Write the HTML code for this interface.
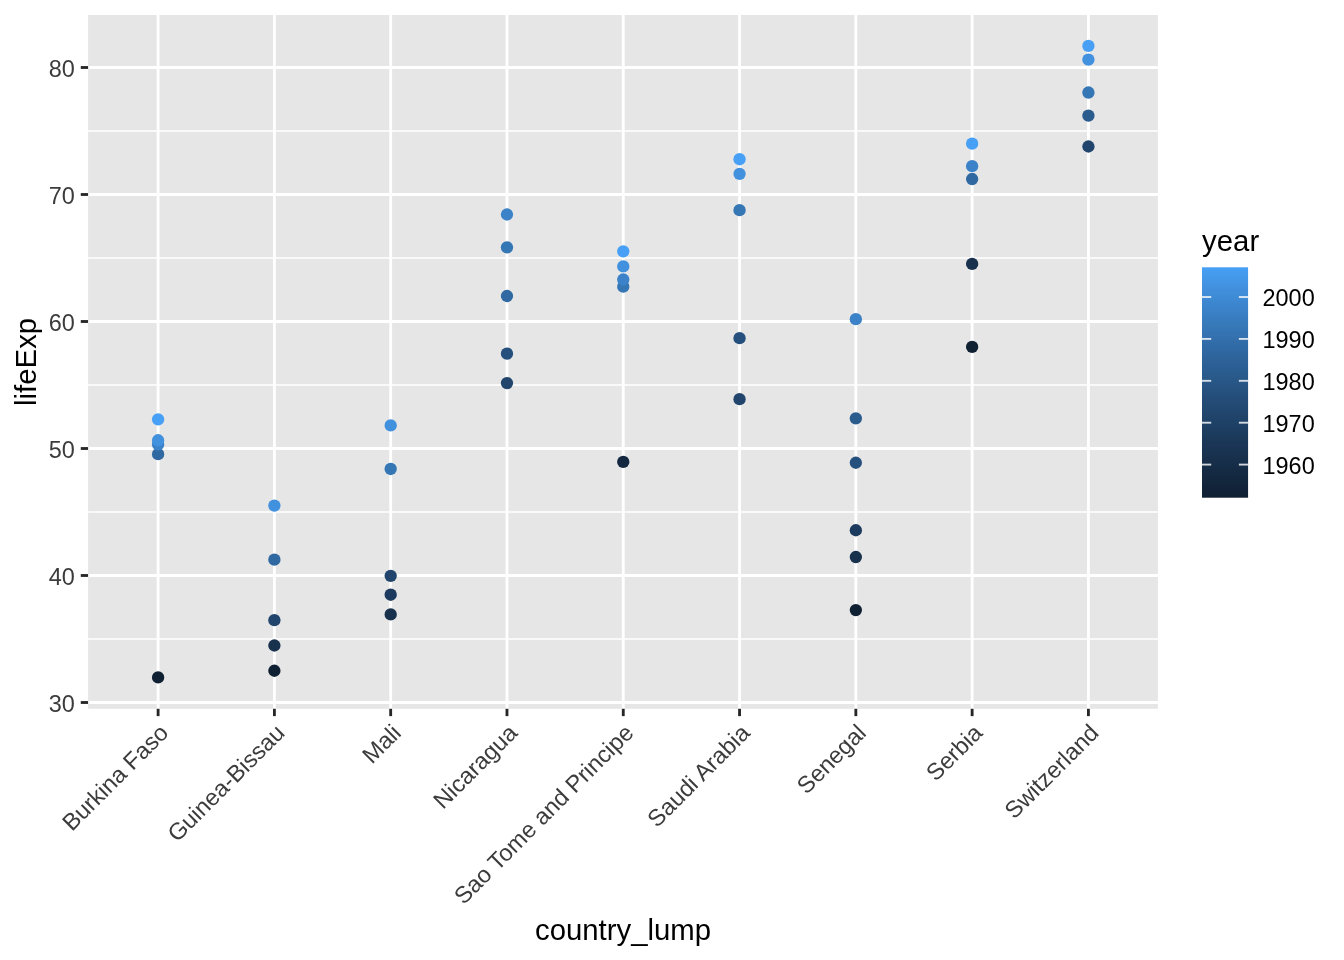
<!DOCTYPE html>
<html><head><meta charset="utf-8"><title>lifeExp by country_lump</title><style>html,body{margin:0;padding:0;background:#fff;}svg{display:block;will-change:transform;}</style></head><body>
<svg width="1344" height="960" viewBox="0 0 1344 960">
<rect width="1344" height="960" fill="#FFFFFF"/>
<rect x="88.1" y="15.0" width="1069.80" height="693.80" fill="#E6E6E6"/>
<line x1="88.1" x2="1157.9" y1="639.00" y2="639.00" stroke="#FFFFFF" stroke-width="1.42"/>
<line x1="88.1" x2="1157.9" y1="512.00" y2="512.00" stroke="#FFFFFF" stroke-width="1.42"/>
<line x1="88.1" x2="1157.9" y1="385.00" y2="385.00" stroke="#FFFFFF" stroke-width="1.42"/>
<line x1="88.1" x2="1157.9" y1="258.00" y2="258.00" stroke="#FFFFFF" stroke-width="1.42"/>
<line x1="88.1" x2="1157.9" y1="131.00" y2="131.00" stroke="#FFFFFF" stroke-width="1.42"/>
<line x1="88.1" x2="1157.9" y1="702.50" y2="702.50" stroke="#FFFFFF" stroke-width="2.84"/>
<line x1="88.1" x2="1157.9" y1="575.50" y2="575.50" stroke="#FFFFFF" stroke-width="2.84"/>
<line x1="88.1" x2="1157.9" y1="448.50" y2="448.50" stroke="#FFFFFF" stroke-width="2.84"/>
<line x1="88.1" x2="1157.9" y1="321.50" y2="321.50" stroke="#FFFFFF" stroke-width="2.84"/>
<line x1="88.1" x2="1157.9" y1="194.50" y2="194.50" stroke="#FFFFFF" stroke-width="2.84"/>
<line x1="88.1" x2="1157.9" y1="67.50" y2="67.50" stroke="#FFFFFF" stroke-width="2.84"/>
<line x1="158.10" x2="158.10" y1="15.0" y2="708.8" stroke="#FFFFFF" stroke-width="2.84"/>
<line x1="274.39" x2="274.39" y1="15.0" y2="708.8" stroke="#FFFFFF" stroke-width="2.84"/>
<line x1="390.68" x2="390.68" y1="15.0" y2="708.8" stroke="#FFFFFF" stroke-width="2.84"/>
<line x1="506.97" x2="506.97" y1="15.0" y2="708.8" stroke="#FFFFFF" stroke-width="2.84"/>
<line x1="623.26" x2="623.26" y1="15.0" y2="708.8" stroke="#FFFFFF" stroke-width="2.84"/>
<line x1="739.55" x2="739.55" y1="15.0" y2="708.8" stroke="#FFFFFF" stroke-width="2.84"/>
<line x1="855.84" x2="855.84" y1="15.0" y2="708.8" stroke="#FFFFFF" stroke-width="2.84"/>
<line x1="972.13" x2="972.13" y1="15.0" y2="708.8" stroke="#FFFFFF" stroke-width="2.84"/>
<line x1="1088.42" x2="1088.42" y1="15.0" y2="708.8" stroke="#FFFFFF" stroke-width="2.84"/>
<circle cx="158.10" cy="677.42" r="6.16" fill="#102033"/>
<circle cx="158.10" cy="454.13" r="6.16" fill="#3068A1"/>
<circle cx="158.10" cy="444.39" r="6.16" fill="#3B82C9"/>
<circle cx="158.10" cy="440.25" r="6.16" fill="#4191DE"/>
<circle cx="158.10" cy="419.35" r="6.16" fill="#47A0F5"/>
<circle cx="274.39" cy="670.75" r="6.16" fill="#102033"/>
<circle cx="274.39" cy="645.50" r="6.16" fill="#18314D"/>
<circle cx="274.39" cy="620.13" r="6.16" fill="#21456D"/>
<circle cx="274.39" cy="559.69" r="6.16" fill="#3068A1"/>
<circle cx="274.39" cy="505.60" r="6.16" fill="#4191DE"/>
<circle cx="390.68" cy="614.41" r="6.16" fill="#18314D"/>
<circle cx="390.68" cy="594.72" r="6.16" fill="#1C3A5D"/>
<circle cx="390.68" cy="575.79" r="6.16" fill="#21456D"/>
<circle cx="390.68" cy="468.97" r="6.16" fill="#3576B5"/>
<circle cx="390.68" cy="425.41" r="6.16" fill="#4191DE"/>
<circle cx="506.97" cy="383.08" r="6.16" fill="#21456D"/>
<circle cx="506.97" cy="353.63" r="6.16" fill="#25507D"/>
<circle cx="506.97" cy="296.00" r="6.16" fill="#3068A1"/>
<circle cx="506.97" cy="247.29" r="6.16" fill="#3576B5"/>
<circle cx="506.97" cy="214.49" r="6.16" fill="#3B82C9"/>
<circle cx="623.26" cy="461.90" r="6.16" fill="#132840"/>
<circle cx="623.26" cy="286.68" r="6.16" fill="#3576B5"/>
<circle cx="623.26" cy="279.51" r="6.16" fill="#3B82C9"/>
<circle cx="623.26" cy="266.42" r="6.16" fill="#4191DE"/>
<circle cx="623.26" cy="251.29" r="6.16" fill="#47A0F5"/>
<circle cx="739.55" cy="399.15" r="6.16" fill="#21456D"/>
<circle cx="739.55" cy="338.14" r="6.16" fill="#25507D"/>
<circle cx="739.55" cy="210.15" r="6.16" fill="#3576B5"/>
<circle cx="739.55" cy="173.85" r="6.16" fill="#4191DE"/>
<circle cx="739.55" cy="159.23" r="6.16" fill="#47A0F5"/>
<circle cx="855.84" cy="610.07" r="6.16" fill="#102033"/>
<circle cx="855.84" cy="557.03" r="6.16" fill="#18314D"/>
<circle cx="855.84" cy="530.25" r="6.16" fill="#1C3A5D"/>
<circle cx="855.84" cy="462.74" r="6.16" fill="#25507D"/>
<circle cx="855.84" cy="418.29" r="6.16" fill="#2A5C8E"/>
<circle cx="855.84" cy="319.13" r="6.16" fill="#3B82C9"/>
<circle cx="972.13" cy="346.95" r="6.16" fill="#102033"/>
<circle cx="972.13" cy="263.96" r="6.16" fill="#18314D"/>
<circle cx="972.13" cy="179.03" r="6.16" fill="#3068A1"/>
<circle cx="972.13" cy="166.15" r="6.16" fill="#3B82C9"/>
<circle cx="972.13" cy="143.67" r="6.16" fill="#47A0F5"/>
<circle cx="1088.42" cy="146.49" r="6.16" fill="#21456D"/>
<circle cx="1088.42" cy="115.63" r="6.16" fill="#2A5C8E"/>
<circle cx="1088.42" cy="92.52" r="6.16" fill="#3576B5"/>
<circle cx="1088.42" cy="59.63" r="6.16" fill="#4191DE"/>
<circle cx="1088.42" cy="45.90" r="6.16" fill="#47A0F5"/>
<line x1="80.77" x2="88.1" y1="702.50" y2="702.50" stroke="#262626" stroke-width="2.84"/>
<line x1="80.77" x2="88.1" y1="575.50" y2="575.50" stroke="#262626" stroke-width="2.84"/>
<line x1="80.77" x2="88.1" y1="448.50" y2="448.50" stroke="#262626" stroke-width="2.84"/>
<line x1="80.77" x2="88.1" y1="321.50" y2="321.50" stroke="#262626" stroke-width="2.84"/>
<line x1="80.77" x2="88.1" y1="194.50" y2="194.50" stroke="#262626" stroke-width="2.84"/>
<line x1="80.77" x2="88.1" y1="67.50" y2="67.50" stroke="#262626" stroke-width="2.84"/>
<line x1="158.10" x2="158.10" y1="708.8" y2="716.13" stroke="#262626" stroke-width="2.84"/>
<line x1="274.39" x2="274.39" y1="708.8" y2="716.13" stroke="#262626" stroke-width="2.84"/>
<line x1="390.68" x2="390.68" y1="708.8" y2="716.13" stroke="#262626" stroke-width="2.84"/>
<line x1="506.97" x2="506.97" y1="708.8" y2="716.13" stroke="#262626" stroke-width="2.84"/>
<line x1="623.26" x2="623.26" y1="708.8" y2="716.13" stroke="#262626" stroke-width="2.84"/>
<line x1="739.55" x2="739.55" y1="708.8" y2="716.13" stroke="#262626" stroke-width="2.84"/>
<line x1="855.84" x2="855.84" y1="708.8" y2="716.13" stroke="#262626" stroke-width="2.84"/>
<line x1="972.13" x2="972.13" y1="708.8" y2="716.13" stroke="#262626" stroke-width="2.84"/>
<line x1="1088.42" x2="1088.42" y1="708.8" y2="716.13" stroke="#262626" stroke-width="2.84"/>
<g font-family="Liberation Sans, Arial, Helvetica, sans-serif" font-size="23.47" fill="#3C3C3C">
<text x="74.9" y="711.70" text-anchor="end">30</text>
<text x="74.9" y="584.70" text-anchor="end">40</text>
<text x="74.9" y="457.70" text-anchor="end">50</text>
<text x="74.9" y="330.70" text-anchor="end">60</text>
<text x="74.9" y="203.70" text-anchor="end">70</text>
<text x="74.9" y="76.70" text-anchor="end">80</text>
<text transform="translate(158.10,722.60) rotate(-45)" y="16.5" text-anchor="end">Burkina Faso</text>
<text transform="translate(274.39,722.60) rotate(-45)" y="16.5" text-anchor="end">Guinea-Bissau</text>
<text transform="translate(390.68,722.60) rotate(-45)" y="16.5" text-anchor="end">Mali</text>
<text transform="translate(506.97,722.60) rotate(-45)" y="16.5" text-anchor="end">Nicaragua</text>
<text transform="translate(623.26,722.60) rotate(-45)" y="16.5" text-anchor="end">Sao Tome and Principe</text>
<text transform="translate(739.55,722.60) rotate(-45)" y="16.5" text-anchor="end">Saudi Arabia</text>
<text transform="translate(855.84,722.60) rotate(-45)" y="16.5" text-anchor="end">Senegal</text>
<text transform="translate(972.13,722.60) rotate(-45)" y="16.5" text-anchor="end">Serbia</text>
<text transform="translate(1088.42,722.60) rotate(-45)" y="16.5" text-anchor="end">Switzerland</text>
</g>
<text font-family="Liberation Sans, Arial, Helvetica, sans-serif" font-size="29.33" fill="#000000" x="623.00" y="940.2" text-anchor="middle">country_lump</text>
<text font-family="Liberation Sans, Arial, Helvetica, sans-serif" font-size="29.33" fill="#000000" transform="translate(35.7,361.90) rotate(-90)" text-anchor="middle">lifeExp</text>
<text font-family="Liberation Sans, Arial, Helvetica, sans-serif" font-size="29.33" fill="#000000" x="1202.1" y="250.9">year</text>
<defs><linearGradient id="g" x1="0" y1="1" x2="0" y2="0">
<stop offset="0.0000" stop-color="#102033"/>
<stop offset="0.0250" stop-color="#112237"/>
<stop offset="0.0500" stop-color="#12243A"/>
<stop offset="0.0750" stop-color="#13273E"/>
<stop offset="0.1000" stop-color="#142941"/>
<stop offset="0.1250" stop-color="#152B45"/>
<stop offset="0.1500" stop-color="#162E49"/>
<stop offset="0.1750" stop-color="#18304C"/>
<stop offset="0.2000" stop-color="#183351"/>
<stop offset="0.2250" stop-color="#1A3555"/>
<stop offset="0.2500" stop-color="#1B3859"/>
<stop offset="0.2750" stop-color="#1C3B5D"/>
<stop offset="0.3000" stop-color="#1E3E62"/>
<stop offset="0.3250" stop-color="#1E4166"/>
<stop offset="0.3500" stop-color="#20436A"/>
<stop offset="0.3750" stop-color="#21476F"/>
<stop offset="0.4000" stop-color="#224A73"/>
<stop offset="0.4250" stop-color="#244C77"/>
<stop offset="0.4500" stop-color="#254F7C"/>
<stop offset="0.4750" stop-color="#265380"/>
<stop offset="0.5000" stop-color="#285686"/>
<stop offset="0.5250" stop-color="#295A8A"/>
<stop offset="0.5500" stop-color="#2A5C90"/>
<stop offset="0.5750" stop-color="#2C5F95"/>
<stop offset="0.6000" stop-color="#2E6399"/>
<stop offset="0.6250" stop-color="#2F669F"/>
<stop offset="0.6500" stop-color="#306AA5"/>
<stop offset="0.6750" stop-color="#326DA9"/>
<stop offset="0.7000" stop-color="#3471AF"/>
<stop offset="0.7250" stop-color="#3575B5"/>
<stop offset="0.7500" stop-color="#3779B9"/>
<stop offset="0.7750" stop-color="#387CBF"/>
<stop offset="0.8000" stop-color="#3A80C5"/>
<stop offset="0.8250" stop-color="#3B83CB"/>
<stop offset="0.8500" stop-color="#3D87D1"/>
<stop offset="0.8750" stop-color="#3F8CD6"/>
<stop offset="0.9000" stop-color="#418FDC"/>
<stop offset="0.9250" stop-color="#4293E2"/>
<stop offset="0.9500" stop-color="#4498E8"/>
<stop offset="0.9750" stop-color="#459BEE"/>
<stop offset="1.0000" stop-color="#47A0F5"/>
</linearGradient></defs>
<rect x="1202.0" y="267.3" width="46.08" height="230.4" fill="url(#g)"/>
<line x1="1202.0" x2="1211.22" y1="464.59" y2="464.59" stroke="#FFFFFF" stroke-opacity="0.8" stroke-width="1.9"/>
<line x1="1238.86" x2="1248.08" y1="464.59" y2="464.59" stroke="#FFFFFF" stroke-opacity="0.8" stroke-width="1.9"/>
<text font-family="Liberation Sans, Arial, Helvetica, sans-serif" font-size="23.47" fill="#000000" x="1262.5" y="473.59">1960</text>
<line x1="1202.0" x2="1211.22" y1="422.70" y2="422.70" stroke="#FFFFFF" stroke-opacity="0.8" stroke-width="1.9"/>
<line x1="1238.86" x2="1248.08" y1="422.70" y2="422.70" stroke="#FFFFFF" stroke-opacity="0.8" stroke-width="1.9"/>
<text font-family="Liberation Sans, Arial, Helvetica, sans-serif" font-size="23.47" fill="#000000" x="1262.5" y="431.70">1970</text>
<line x1="1202.0" x2="1211.22" y1="380.81" y2="380.81" stroke="#FFFFFF" stroke-opacity="0.8" stroke-width="1.9"/>
<line x1="1238.86" x2="1248.08" y1="380.81" y2="380.81" stroke="#FFFFFF" stroke-opacity="0.8" stroke-width="1.9"/>
<text font-family="Liberation Sans, Arial, Helvetica, sans-serif" font-size="23.47" fill="#000000" x="1262.5" y="389.81">1980</text>
<line x1="1202.0" x2="1211.22" y1="338.91" y2="338.91" stroke="#FFFFFF" stroke-opacity="0.8" stroke-width="1.9"/>
<line x1="1238.86" x2="1248.08" y1="338.91" y2="338.91" stroke="#FFFFFF" stroke-opacity="0.8" stroke-width="1.9"/>
<text font-family="Liberation Sans, Arial, Helvetica, sans-serif" font-size="23.47" fill="#000000" x="1262.5" y="347.91">1990</text>
<line x1="1202.0" x2="1211.22" y1="297.02" y2="297.02" stroke="#FFFFFF" stroke-opacity="0.8" stroke-width="1.9"/>
<line x1="1238.86" x2="1248.08" y1="297.02" y2="297.02" stroke="#FFFFFF" stroke-opacity="0.8" stroke-width="1.9"/>
<text font-family="Liberation Sans, Arial, Helvetica, sans-serif" font-size="23.47" fill="#000000" x="1262.5" y="306.02">2000</text>
</svg>
</body></html>
